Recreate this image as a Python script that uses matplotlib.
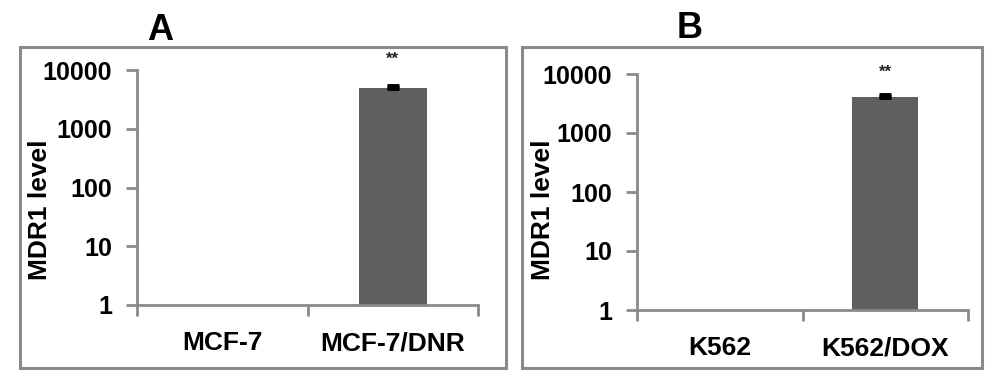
import matplotlib
matplotlib.use("Agg")
import matplotlib.pyplot as plt
from matplotlib.patches import Rectangle

plt.rcParams["font.family"] = ["Liberation Sans", "DejaVu Sans"]
plt.rcParams["font.weight"] = "bold"

# data
labels_a = ["MCF-7", "MCF-7/DNR"]
values_a = [1, 5000]
errors_a = [0, 250]

labels_b = ["K562", "K562/DOX"]
values_b = [1, 4000]
errors_b = [0, 400]

yticks = [1, 10, 100, 1000, 10000]
ytick_labels = ["1", "10", "100", "1000", "10000"]

bar_color = "#5f5f5f"
axis_color = "#8a8a8a"

fig = plt.figure(figsize=(10, 3.85), dpi=100)


def px_box(x0, y0, x1, y1):
    # pixel box (top-left origin) -> figure fraction rect
    return [x0 / 1000, 1 - y1 / 385, (x1 - x0) / 1000, (y1 - y0) / 385]


def panel(rect, labels, values, errors, letter, letter_x, letter_y,
          star_y, ylab_x):
    ax = fig.add_axes(rect)
    pos = [0.5, 1.5]
    ax.bar(pos, values, width=0.40, color=bar_color, zorder=2)
    ax.errorbar(pos[1], values[1], yerr=[[0], [errors[1]]], fmt="none",
                ecolor="black", elinewidth=1.5, capsize=4.5, capthick=3.5,
                zorder=3)
    ax.set_yscale("log")
    ax.set_ylim(1, 10000)
    ax.set_xlim(0, 2)
    ax.set_yticks(yticks)
    ax.set_yticklabels(ytick_labels, fontsize=18, fontweight="bold")
    ax.yaxis.set_minor_locator(matplotlib.ticker.NullLocator())
    ax.set_xticks([0, 1, 2])
    ax.set_xticklabels(["", "", ""])
    ax.set_xticks(pos, minor=True)
    ax.set_xticklabels(labels, minor=True, fontsize=19, fontweight="bold")
    ax.tick_params(axis="x", which="minor", length=0, pad=19)
    ax.tick_params(axis="x", which="major", length=8, width=2, color=axis_color)
    ax.tick_params(axis="y", length=8, width=2, color=axis_color, pad=10)
    for s in ["top", "right"]:
        ax.spines[s].set_visible(False)
    for s in ["left", "bottom"]:
        ax.spines[s].set_color(axis_color)
        ax.spines[s].set_linewidth(2)
    fig.text(ylab_x / 1000, 1 - 210 / 385, "MDR1 level", rotation=90,
             ha="center", va="center", fontsize=19, fontweight="bold")
    ax.text(pos[1], star_y, "**", ha="center", va="center",
            fontsize=12, color="#222222")
    fig.text(letter_x / 1000, 1 - letter_y / 385, letter, ha="center",
             va="center", fontsize=26, fontweight="bold")
    return ax


panel(px_box(137, 70, 478, 305), labels_a, values_a, errors_a,
      "A", 160, 30, 15000, 40)
panel(px_box(637, 74, 968, 310), labels_b, values_b, errors_b,
      "B", 690, 28, 10500, 543)

# panel borders
for x0, x1 in [(20, 506), (522, 982)]:
    fig.patches.append(Rectangle((x0 / 1000, 1 - 368 / 385),
                                 (x1 - x0) / 1000, (368 - 47) / 385,
                                 transform=fig.transFigure, fill=False,
                                 edgecolor=axis_color, linewidth=2.2))

fig.savefig("out.png", dpi=100)
